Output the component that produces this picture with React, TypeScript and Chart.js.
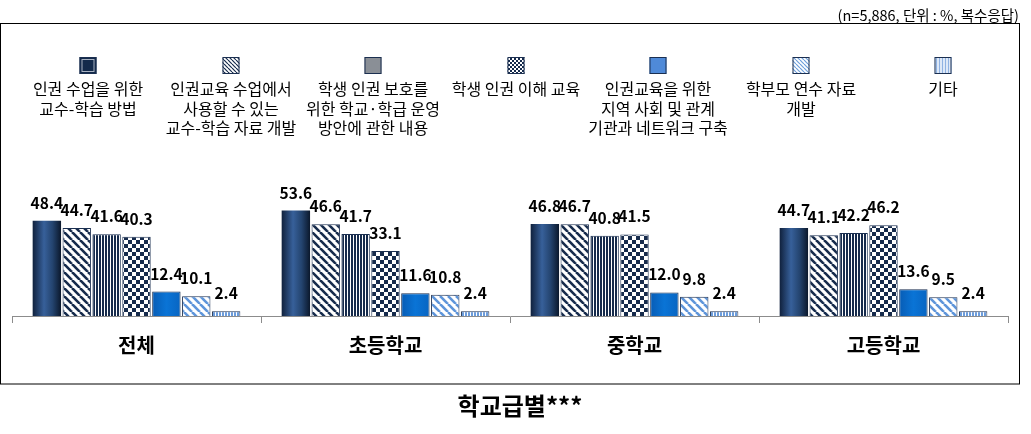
import React, { useEffect, useRef } from "react";
import { Chart, registerables } from "chart.js";

Chart.register(...registerables);

const categories = ["전체", "초등학교", "중학교", "고등학교"];
const seriesLabels: string[][] = [
  ["인권 수업을 위한", "교수-학습 방법"],
  ["인권교육 수업에서", "사용할 수 있는", "교수-학습 자료 개발"],
  ["학생 인권 보호를", "위한 학교·학급 운영", "방안에 관한 내용"],
  ["학생 인권 이해 교육"],
  ["인권교육을 위한", "지역 사회 및 관계", "기관과 네트워크 구축"],
  ["학부모 연수 자료", "개발"],
  ["기타"],
];
const s1 = [48.4, 53.6, 46.8, 44.7];
const s2 = [44.7, 46.6, 46.7, 41.1];
const s3 = [41.6, 41.7, 40.8, 42.2];
const s4 = [40.3, 33.1, 41.5, 46.2];
const s5 = [12.4, 11.6, 12.0, 13.6];
const s6 = [10.1, 10.8, 9.8, 9.5];
const s7 = [2.4, 2.4, 2.4, 2.4];
const seriesValues = [s1, s2, s3, s4, s5, s6, s7];

const subtitle = "(n=5,886, 단위 : %, 복수응답)";
const title = "학교급별***";

const FONT = "'Noto Sans CJK KR', 'Noto Sans', sans-serif";
const NAVY = "#162b4c";
const BORDER = "#1b2f50";
const LIGHTBLUE = "#5e95da";
const CAT_PCT = 0.84;
const BAR_PCT = 0.95;

function makeTile(w: number, h: number, draw: (c: CanvasRenderingContext2D) => void) {
  const cv = document.createElement("canvas");
  cv.width = w;
  cv.height = h;
  const c = cv.getContext("2d")!;
  draw(c);
  return cv;
}

function diagTile(size: number, color: string, lw: number) {
  return makeTile(size, size, (c) => {
    c.fillStyle = "#ffffff";
    c.fillRect(0, 0, size, size);
    c.strokeStyle = color;
    c.lineWidth = lw;
    for (const x0 of [-size, 0, size]) {
      c.beginPath();
      c.moveTo(x0, 0);
      c.lineTo(x0 + size, size);
      c.stroke();
    }
  });
}

function vertTile(period: number, dark: number, color: string, bg = "#ffffff") {
  return makeTile(period, 4, (c) => {
    c.fillStyle = bg;
    c.fillRect(0, 0, period, 4);
    c.fillStyle = color;
    c.fillRect(0, 0, dark, 4);
  });
}

function checkTile(sq: number, color: string) {
  return makeTile(sq * 2, sq * 2, (c) => {
    c.fillStyle = "#ffffff";
    c.fillRect(0, 0, sq * 2, sq * 2);
    c.fillStyle = color;
    c.fillRect(0, 0, sq, sq);
    c.fillRect(sq, sq, sq, sq);
  });
}

function barGradient(ctx: any, stops: [number, string][]) {
  const chart = ctx.chart;
  const xs = chart.scales && chart.scales.x;
  const fallback = stops[Math.floor(stops.length / 2)][1];
  if (ctx.type !== "data" || !xs || !(xs.width > 0)) return fallback;
  const n = seriesValues.length;
  const catW = xs.width / categories.length;
  const slot = (catW * CAT_PCT) / n;
  const barW = slot * BAR_PCT;
  const cx = xs.getPixelForValue(ctx.dataIndex) + (ctx.datasetIndex - (n - 1) / 2) * slot;
  if (!isFinite(cx)) return fallback;
  const g = chart.ctx.createLinearGradient(cx - barW / 2, 0, cx + barW / 2, 0);
  stops.forEach(([o, c]) => g.addColorStop(o, c));
  return g;
}

export default function App() {
  const ref = useRef<HTMLCanvasElement>(null);

  useEffect(() => {
    const canvas = ref.current!;
    const c2 = canvas.getContext("2d")!;
    const pat = (tile: HTMLCanvasElement) => c2.createPattern(tile, "repeat")!;

    const fills: any[] = [
      (ctx: any) =>
        barGradient(ctx, [
          [0, "#10213d"],
          [0.4, "#37609a"],
          [0.7, "#24446f"],
          [1, "#0b182c"],
        ]),
      pat(diagTile(8, NAVY, 2.6)),
      pat(vertTile(3, 2, NAVY)),
      pat(checkTile(4, NAVY)),
      (ctx: any) =>
        barGradient(ctx, [
          [0, "#075cb5"],
          [0.5, "#0a74d6"],
          [1, "#0865c2"],
        ]),
      pat(diagTile(8, LIGHTBLUE, 2.6)),
      pat(vertTile(3, 2, "#6b9cdc")),
    ];
    const borders = ["#0f1f38", BORDER, BORDER, BORDER, BORDER, BORDER, BORDER];
    const borderW = [0, 1, 1, 1, 1, 1, 1];

    const legendFills: any[] = [
      "#132a4b",
      pat(diagTile(4, NAVY, 1.2)),
      "#8a8f96",
      pat(checkTile(2, NAVY)),
      "#4f8ad8",
      pat(diagTile(4, "#6d9fdc", 1.2)),
      pat(vertTile(3, 1, "#8fb2e2", "#dde8f7")),
    ];

    const decor = {
      id: "decor",
      beforeDraw(chart: any) {
        const ctx = chart.ctx as CanvasRenderingContext2D;
        ctx.save();
        ctx.fillStyle = "#ffffff";
        ctx.fillRect(0, 0, chart.width, chart.height);
        // subtitle
        ctx.fillStyle = "#000";
        ctx.font = `14.5px ${FONT}`;
        ctx.textAlign = "right";
        ctx.textBaseline = "middle";
        ctx.fillText(subtitle, 1019, 15);
        // box
        ctx.strokeStyle = "#000";
        ctx.lineWidth = 1;
        ctx.strokeRect(0.5, 23.5, 1019, 360.5);
        // legend
        const n = chart.data.datasets.length;
        for (let i = 0; i < n; i++) {
          const cx = Math.round(88 + i * 142.5);
          const x0 = cx - 8.5;
          const y0 = 57;
          ctx.fillStyle = legendFills[i];
          ctx.fillRect(x0, y0, 17, 17);
          ctx.strokeStyle = BORDER;
          ctx.lineWidth = 1;
          ctx.strokeRect(x0 + 0.5, y0 + 0.5, 16, 16);
          if (i === 0) {
            ctx.strokeStyle = "#a9b2c2";
            ctx.strokeRect(x0 + 2.5, y0 + 2.5, 12, 12);
          }
          const lines: string[] = chart.data.datasets[i].legendLines;
          ctx.fillStyle = "#000";
          ctx.font = `16px ${FONT}`;
          ctx.textAlign = "center";
          ctx.textBaseline = "middle";
          lines.forEach((ln, k) => ctx.fillText(ln, cx, 89 + k * 19.5));
        }
        // title
        ctx.font = `bold 24px ${FONT}`;
        ctx.fillStyle = "#000";
        ctx.textAlign = "center";
        ctx.textBaseline = "middle";
        ctx.fillText(title, 520, 406);
        ctx.restore();
      },
      afterDatasetsDraw(chart: any) {
        const ctx = chart.ctx as CanvasRenderingContext2D;
        ctx.save();
        ctx.fillStyle = "#000";
        ctx.font = `bold 15.5px ${FONT}`;
        ctx.textAlign = "center";
        ctx.textBaseline = "alphabetic";
        chart.data.datasets.forEach((ds: any, di: number) => {
          const meta = chart.getDatasetMeta(di);
          meta.data.forEach((el: any, i: number) => {
            ctx.fillText(ds.data[i].toFixed(1), el.x, el.y - 12);
          });
        });
        ctx.restore();
      },
    };

    const chart = new Chart(canvas, {
      type: "bar",
      data: {
        labels: categories,
        datasets: seriesValues.map((vals, i) => ({
          label: seriesLabels[i].join(" "),
          legendLines: seriesLabels[i],
          data: vals,
          backgroundColor: fills[i],
          borderColor: borders[i],
          borderWidth: borderW[i],
          borderSkipped: "bottom",
          categoryPercentage: CAT_PCT,
          barPercentage: BAR_PCT,
        })) as any,
      },
      options: {
        responsive: false,
        animation: false,
        events: [],
        layout: { padding: { left: 12, right: 23, top: 198, bottom: 68 } },
        plugins: {
          legend: { display: false },
          title: { display: false },
          tooltip: { enabled: false },
        },
        scales: {
          x: {
            grid: {
              display: true,
              drawOnChartArea: false,
              drawTicks: true,
              tickLength: 7,
              color: "#8c8c8c",
              offset: true,
            },
            border: { display: true, color: "#8c8c8c", width: 1 },
            ticks: {
              color: "#000",
              padding: 10,
              font: { family: FONT, size: 20, weight: "bold" },
            },
            afterFit: (scale: any) => {
              scale.height = 50;
            },
          },
          y: {
            display: false,
            min: 0,
            max: 60,
          },
        },
      },
      plugins: [decor],
    } as any);

    return () => chart.destroy();
  }, []);

  return (
    <div style={{ position: "fixed", left: 0, top: 0, width: 1031, height: 434, background: "#fff" }}>
      <canvas ref={ref} width={1031} height={434} style={{ display: "block" }} />
    </div>
  );
}
